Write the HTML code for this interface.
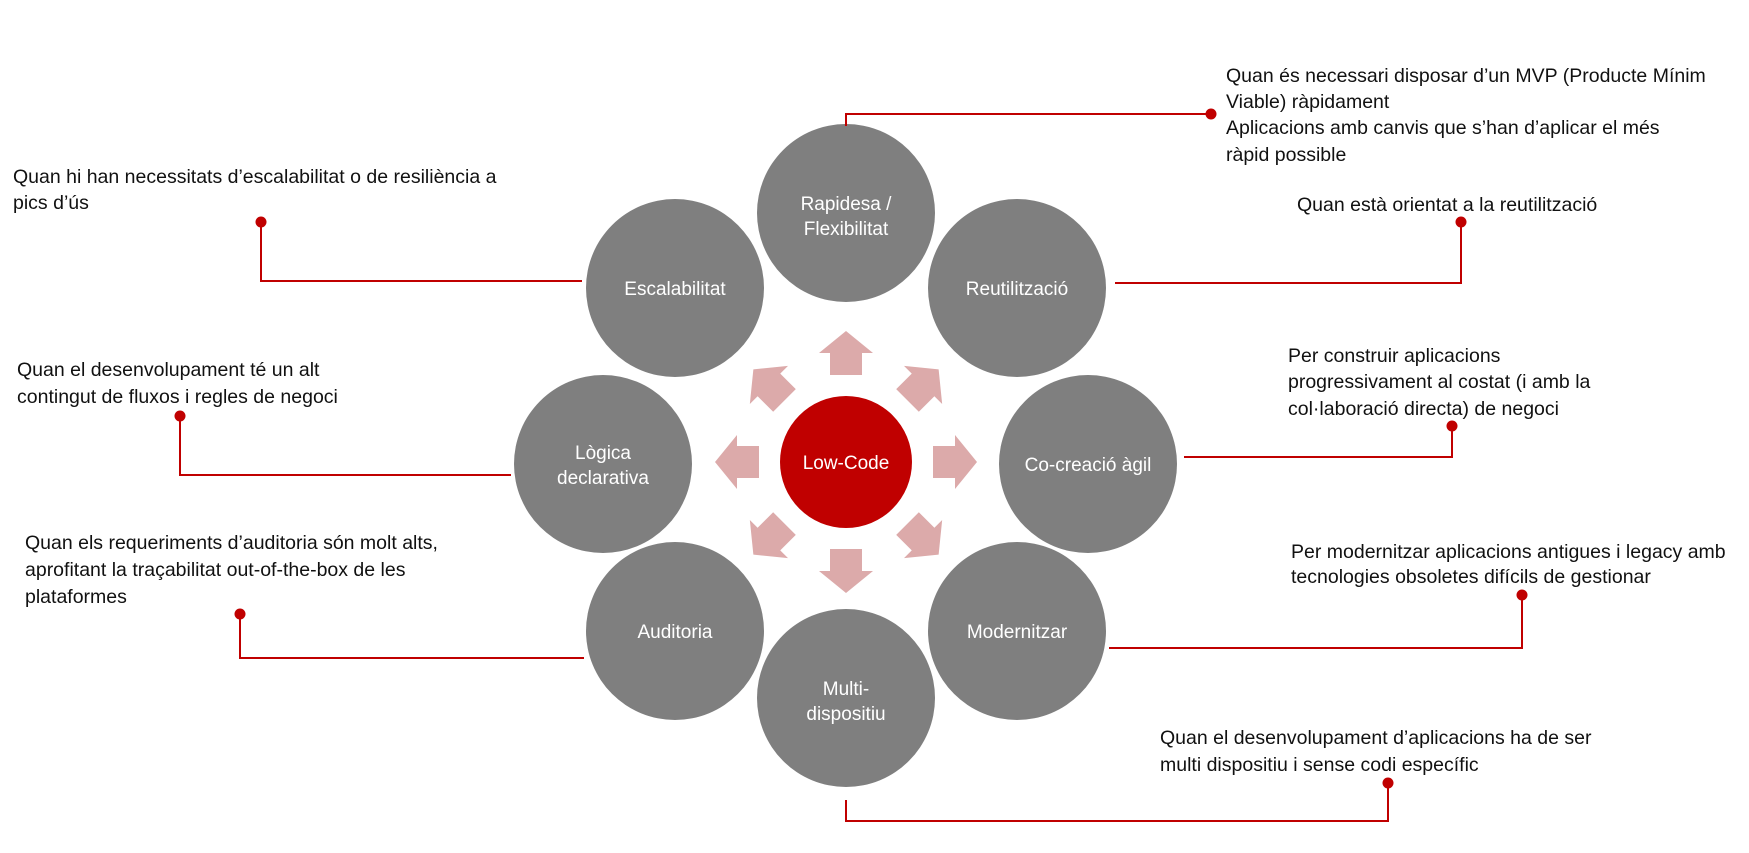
<!DOCTYPE html>
<html><head><meta charset="utf-8"><style>
html,body{margin:0;padding:0;background:#fff;}
svg{display:block;}
text{font-family:"Liberation Sans",sans-serif;}
.t{font-size:19.5px;fill:#111;}
.c{font-size:19px;fill:#fff;text-anchor:middle;}
</style></head><body>
<svg width="1749" height="853" viewBox="0 0 1749 853" xmlns="http://www.w3.org/2000/svg">
<defs>
<polygon id="ar" points="0,-131 27,-109 16,-109 16,-87 -16,-87 -16,-109 -27,-109" fill="#dcaaaa"/>
</defs>
<g fill="#7f7f7f">
<circle cx="846" cy="213" r="89"/>
<circle cx="675" cy="288" r="89"/>
<circle cx="1017" cy="288" r="89"/>
<circle cx="603" cy="464" r="89"/>
<circle cx="1088" cy="464" r="89"/>
<circle cx="675" cy="631" r="89"/>
<circle cx="1017" cy="631" r="89"/>
<circle cx="846" cy="698" r="89"/>
</g>
<g transform="translate(846,462)">
<use href="#ar"/>
<use href="#ar" transform="rotate(45)"/>
<use href="#ar" transform="rotate(90)"/>
<use href="#ar" transform="rotate(135)"/>
<use href="#ar" transform="rotate(180)"/>
<use href="#ar" transform="rotate(225)"/>
<use href="#ar" transform="rotate(270)"/>
<use href="#ar" transform="rotate(315)"/>
</g>
<circle cx="846" cy="462" r="66" fill="#c00000"/>
<text class="c" x="846" y="469">Low-Code</text>
<text class="c" x="846" y="210">Rapidesa /</text>
<text class="c" x="846" y="235">Flexibilitat</text>
<text class="c" x="675" y="295">Escalabilitat</text>
<text class="c" x="1017" y="295">Reutilització</text>
<text class="c" x="603" y="459">Lògica</text>
<text class="c" x="603" y="484">declarativa</text>
<text class="c" x="1088" y="471">Co-creació àgil</text>
<text class="c" x="675" y="638">Auditoria</text>
<text class="c" x="1017" y="638">Modernitzar</text>
<text class="c" x="846" y="695">Multi-</text>
<text class="c" x="846" y="720">dispositiu</text>
<g fill="none" stroke="#c00000" stroke-width="2">
<polyline points="846,126 846,114 1211,114"/>
<polyline points="261,222 261,281 582,281"/>
<polyline points="1115,283 1461,283 1461,222"/>
<polyline points="180,416 180,475 511,475"/>
<polyline points="1184,457 1452,457 1452,426"/>
<polyline points="240,614 240,658 584,658"/>
<polyline points="1109,648 1522,648 1522,595"/>
<polyline points="846,800 846,821 1388,821 1388,783"/>
</g>
<g fill="#c00000">
<circle cx="1211" cy="114" r="5.5"/>
<circle cx="261" cy="222" r="5.5"/>
<circle cx="1461" cy="222" r="5.5"/>
<circle cx="180" cy="416" r="5.5"/>
<circle cx="1452" cy="426" r="5.5"/>
<circle cx="240" cy="614" r="5.5"/>
<circle cx="1522" cy="595" r="5.5"/>
<circle cx="1388" cy="783" r="5.5"/>
</g>
<g class="t">
<text x="1226" y="82">Quan és necessari disposar d’un MVP (Producte Mínim</text>
<text x="1226" y="108">Viable) ràpidament</text>
<text x="1226" y="134">Aplicacions amb canvis que s’han d’aplicar el més</text>
<text x="1226" y="161">ràpid possible</text>
<text x="13" y="183">Quan hi han necessitats d’escalabilitat o de resiliència a</text>
<text x="13" y="209">pics d’ús</text>
<text x="1297" y="211">Quan està orientat a la reutilització</text>
<text x="17" y="376">Quan el desenvolupament té un alt</text>
<text x="17" y="403">contingut de fluxos i regles de negoci</text>
<text x="1288" y="362">Per construir aplicacions</text>
<text x="1288" y="388">progressivament al costat (i amb la</text>
<text x="1288" y="415">col·laboració directa) de negoci</text>
<text x="25" y="549">Quan els requeriments d’auditoria són molt alts,</text>
<text x="25" y="576">aprofitant la traçabilitat out-of-the-box de les</text>
<text x="25" y="603">plataformes</text>
<text x="1291" y="558">Per modernitzar aplicacions antigues i legacy amb</text>
<text x="1291" y="583">tecnologies obsoletes difícils de gestionar</text>
<text x="1160" y="744">Quan el desenvolupament d’aplicacions ha de ser</text>
<text x="1160" y="771">multi dispositiu i sense codi específic</text>
</g>
</svg>
</body></html>
